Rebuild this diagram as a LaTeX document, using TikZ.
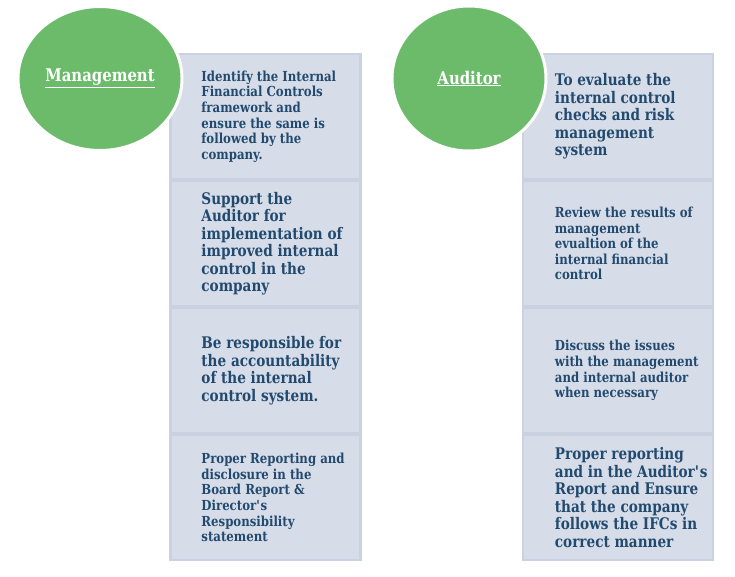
\documentclass[tikz,border=0pt]{standalone}
\usepackage{fontspec}
\setmainfont{DejaVu Serif}[FakeStretch=0.85]
\usepackage{tikz}
\usetikzlibrary{shapes.geometric}
\definecolor{ringgreen}{HTML}{6BBB6B}
\definecolor{boxfill}{HTML}{D6DCE8}
\definecolor{boxline}{HTML}{CAD2E2}
\definecolor{textblue}{HTML}{224A6E}
\tikzset{
  duty/.style={rectangle, fill=boxfill, draw=boxline, line width=2.5pt, minimum width=190pt, minimum height=125pt, inner sep=0pt},
  role/.style={ellipse, fill=ringgreen, draw=white, line width=3pt, text=white, font=\bfseries\fontsize{17.5}{19}\selectfont},
  itemsm/.style={anchor=west, align=left, inner sep=0pt, text=textblue, font=\bfseries\fontsize{13.8}{15.6}\selectfont},
  itemlg/.style={anchor=west, align=left, inner sep=0pt, text=textblue, font=\bfseries\fontsize{16}{17.5}\selectfont}
}

\begin{document}
\begin{tikzpicture}[x=1pt, y=-1pt]
  \useasboundingbox (0,0) rectangle (735,577);
  \foreach \i/\y in {1/116.5, 2/243.5, 3/370.5, 4/497.5}
  {
  \node[duty] (m\i) at (265.5, \y) {};
  \node[duty] (a\i) at (618, \y) {};
  }
  \node[role, minimum width=160pt, minimum height=144pt] (mgmt) at (100, 78.5) {\underline{Management}};
  \node[role, minimum width=154pt, minimum height=145pt] (aud) at (469, 78.5) {\underline{Auditor}};

  \node[itemsm] (m1t) at ([xshift=32pt]m1.west) {Identify the Internal\\Financial Controls\\framework and\\ensure the same is\\followed by the\\company.};
  \node[itemlg] (m2t) at ([xshift=32pt]m2.west) {Support the\\Auditor for\\implementation of\\improved internal\\control in the\\company};
  \node[itemlg] (m3t) at ([xshift=32pt]m3.west) {Be responsible for\\the accountability\\of the internal\\control system.};
  \node[itemsm] (m4t) at ([xshift=32pt]m4.west) {Proper Reporting and\\disclosure in the\\Board Report \&\\Director\textquotesingle s\\Responsibility\\statement};

  \node[itemlg] (a1t) at ([xshift=33pt]a1.west) {To evaluate the\\internal control\\checks and risk\\management\\system};
  \node[itemsm] (a2t) at ([xshift=33pt]a2.west) {Review the results of\\management\\evualtion of the\\internal financial\\control};
  \node[itemsm] (a3t) at ([xshift=33pt]a3.west) {Discuss the issues\\with the management\\and internal auditor\\when necessary};
  \node[itemlg] (a4t) at ([xshift=33pt]a4.west) {Proper reporting\\and in the Auditor\textquotesingle s\\Report and Ensure\\that the company\\follows the IFCs in\\correct manner};

\end{tikzpicture}
\end{document}
